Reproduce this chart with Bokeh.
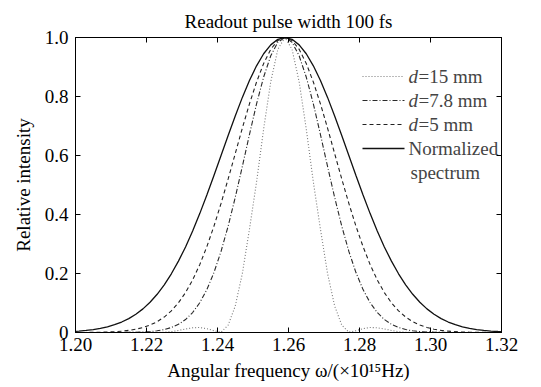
from bokeh.plotting import figure
from bokeh.models import FixedTicker, LinearAxis, Label, Arrow
from bokeh.embed import file_html
from bokeh.resources import INLINE

# ---------------- data ----------------
omega = [1.200, 1.201, 1.203, 1.205, 1.207, 1.209, 1.211, 1.213, 1.215, 1.217,
         1.219, 1.221, 1.223, 1.225, 1.227, 1.229, 1.231, 1.233, 1.235, 1.237,
         1.239, 1.241, 1.243, 1.245, 1.247, 1.249, 1.251, 1.253, 1.255, 1.257,
         1.259,
         1.261, 1.263, 1.265, 1.267, 1.269, 1.271, 1.273, 1.275, 1.277, 1.279,
         1.281, 1.283, 1.285, 1.287, 1.289, 1.291, 1.293, 1.295, 1.297, 1.299,
         1.301, 1.303, 1.305, 1.307, 1.309, 1.311, 1.313, 1.315, 1.317, 1.319,
         1.320]

spectrum = [0.0041, 0.0050, 0.0071, 0.0101, 0.0140, 0.0194, 0.0264, 0.0355, 0.0472, 0.0619,
            0.0801, 0.1025, 0.1295, 0.1615, 0.199, 0.242, 0.290, 0.344, 0.403, 0.466,
            0.532, 0.600, 0.668, 0.734, 0.797, 0.854, 0.904, 0.945, 0.975, 0.994,
            1.0,
            0.994, 0.975, 0.945, 0.904, 0.854, 0.797, 0.734, 0.668, 0.600, 0.532,
            0.466, 0.403, 0.344, 0.290, 0.242, 0.199, 0.1615, 0.1295, 0.1025, 0.0801,
            0.0619, 0.0472, 0.0355, 0.0264, 0.0194, 0.0140, 0.0101, 0.0071, 0.0050, 0.0034,
            0.0028]

d5 = [0.0001, 0.0002, 0.0003, 0.0006, 0.0010, 0.0017, 0.0028, 0.0045, 0.0072, 0.0111,
      0.0169, 0.0251, 0.0367, 0.0524, 0.0734, 0.1007, 0.1353, 0.1783, 0.230, 0.291,
      0.3604, 0.4376, 0.5205, 0.6065, 0.693, 0.775, 0.849, 0.912, 0.960, 0.990,
      1.0,
      0.990, 0.960, 0.912, 0.849, 0.775, 0.693, 0.6065, 0.5205, 0.4376, 0.3604,
      0.291, 0.230, 0.1783, 0.1353, 0.1007, 0.0734, 0.0524, 0.0367, 0.0251, 0.0169,
      0.0111, 0.0072, 0.0045, 0.0028, 0.0017, 0.0010, 0.0006, 0.0003, 0.0002, 0.0001,
      0.0001]

d78 = [0.0, 0.0, 0.0, 0.0, 0.0001, 0.0001, 0.0001, 0.0002, 0.0004, 0.0009,
       0.0017, 0.0032, 0.0057, 0.0100, 0.0169, 0.0277, 0.044, 0.0677, 0.1008, 0.1454,
       0.2032, 0.275, 0.3606, 0.458, 0.563, 0.671, 0.775, 0.866, 0.938, 0.984,
       1.0,
       0.984, 0.938, 0.866, 0.775, 0.671, 0.563, 0.458, 0.3606, 0.275, 0.2032,
       0.1454, 0.1008, 0.0677, 0.044, 0.0277, 0.0169, 0.0100, 0.0057, 0.0032, 0.0017,
       0.0009, 0.0004, 0.0002, 0.0001, 0.0001, 0.0001, 0.0, 0.0, 0.0, 0.0,
       0.0]

d15 = [0.0, 0.0, 0.0, 0.0, 0.0, 0.0, 0.0, 0.0, 0.0005, 0.001,
       0.001, 0.0005, 0.0, 0.001, 0.003, 0.007, 0.012, 0.016, 0.017, 0.013,
       0.006, 0.001, 0.025, 0.09, 0.20, 0.35, 0.51, 0.69, 0.85, 0.96,
       1.0,
       0.96, 0.85, 0.69, 0.51, 0.35, 0.20, 0.09, 0.025, 0.001, 0.006,
       0.013, 0.017, 0.016, 0.012, 0.007, 0.003, 0.001, 0.0, 0.0005, 0.001,
       0.001, 0.0005, 0.0, 0.0, 0.0, 0.0, 0.0, 0.0, 0.0, 0.0,
       0.0]

x_ticks = [1.20, 1.22, 1.24, 1.26, 1.28, 1.30, 1.32]
x_tick_labels = ["1.20", "1.22", "1.24", "1.26", "1.28", "1.30", "1.32"]
y_ticks = [0, 0.2, 0.4, 0.6, 0.8, 1.0]
y_tick_labels = ["0", "0.2", "0.4", "0.6", "0.8", "1.0"]

legend_names = [("d", "=15 mm"), ("d", "=7.8 mm"), ("d", "=5 mm"), ("", "Normalized")]
title_text = "Readout pulse width 100 fs"
x_label = "Angular frequency \u03c9/(\u00d710\u00b9\u2075Hz)"
y_label = "Relative intensity"

# ---------------- figure ----------------
FONT = "'Liberation Serif', 'Times New Roman', serif"
FS = "19px"
X0, X1, Y0, Y1 = 1.20, 1.32, 0.0, 1.0
L, T, FW, FH = 75, 37, 426, 295

p = figure(width=541, height=387, frame_width=FW, frame_height=FH,
           x_range=(X0, X1), y_range=(Y0, Y1),
           output_backend="svg", toolbar_location=None,
           min_border_left=L, min_border_right=541 - L - FW,
           min_border_top=T, min_border_bottom=387 - T - FH,
           background_fill_color="white", border_fill_color="white")
p.xgrid.visible = False
p.ygrid.visible = False
p.outline_line_color = "black"
p.outline_line_width = 1

p.title.text = title_text
p.title.text_font = FONT
p.title.text_font_size = FS
p.title.text_font_style = "normal"
p.title.text_color = "black"
p.title.align = "center"
p.title.standoff = 12


def px2x(px):
    return X0 + (px - L) * (X1 - X0) / FW


def px2y(py):
    return Y0 + (T + FH - py) * (Y1 - Y0) / FH


def style_axis(ax, ticks, labels, show_labels=True):
    ax.ticker = FixedTicker(ticks=ticks)
    ax.major_label_overrides = {t: (l if show_labels else "") for t, l in zip(ticks, labels)}
    ax.major_tick_in = 5
    ax.major_tick_out = 0
    ax.minor_tick_line_color = None
    ax.axis_line_color = "black"
    ax.major_tick_line_color = "black"
    ax.major_label_text_font = FONT
    ax.major_label_text_font_size = FS if show_labels else "1px"
    ax.major_label_text_color = "black"


style_axis(p.xaxis[0], x_ticks, x_tick_labels)
style_axis(p.yaxis[0], y_ticks, y_tick_labels)
p.xaxis[0].major_label_standoff = 5
p.yaxis[0].major_label_standoff = 7
for ax, lab, so in ((p.yaxis[0], y_label, 8), (p.xaxis[0], x_label, 6)):
    ax.axis_label = lab
    ax.axis_label_text_font = FONT
    ax.axis_label_text_font_size = FS
    ax.axis_label_text_font_style = "normal"
    ax.axis_label_text_color = "black"
    ax.axis_label_standoff = so

top_ax = LinearAxis()
style_axis(top_ax, x_ticks, x_tick_labels, show_labels=False)
top_ax.major_label_standoff = 0
p.add_layout(top_ax, "above")
right_ax = LinearAxis()
style_axis(right_ax, y_ticks, y_tick_labels, show_labels=False)
right_ax.major_label_standoff = 0
p.add_layout(right_ax, "right")

# ---------------- curves ----------------
styles = [
    (d15, "#777777", "1 2", 1.1),
    (d78, "#2a2a2a", "5 2 1 2", 1.1),
    (d5, "#222222", "4 3", 1.1),
    (spectrum, "#111111", "solid", 1.3),
]
for ys, col, dash, lw in styles:
    p.line(omega, ys, line_color=col, line_dash=dash, line_width=lw)

# ---------------- legend (custom, mixed italic) ----------------
rows = [76, 100, 124, 148]
for (it, rest), (ys, col, dash, lw), ry in zip(legend_names, styles, rows):
    p.add_layout(Arrow(end=None, start=None, x_start=px2x(362), y_start=px2y(ry),
                       x_end=px2x(404), y_end=px2y(ry), line_color=col,
                       line_dash=dash, line_width=lw))
    tx = 408
    if it:
        p.add_layout(Label(x=px2x(tx), y=px2y(ry), text=it, text_font=FONT,
                           text_font_size=FS, text_font_style="italic",
                           text_baseline="middle", text_align="left"))
        tx += 10
    p.add_layout(Label(x=px2x(tx), y=px2y(ry), text=rest, text_font=FONT,
                       text_font_size=FS, text_baseline="middle", text_align="left"))
p.add_layout(Label(x=px2x(410), y=px2y(172), text="spectrum", text_font=FONT,
                   text_font_size=FS, text_baseline="middle", text_align="left"))

open("out.html", "w").write(file_html(p, INLINE))
